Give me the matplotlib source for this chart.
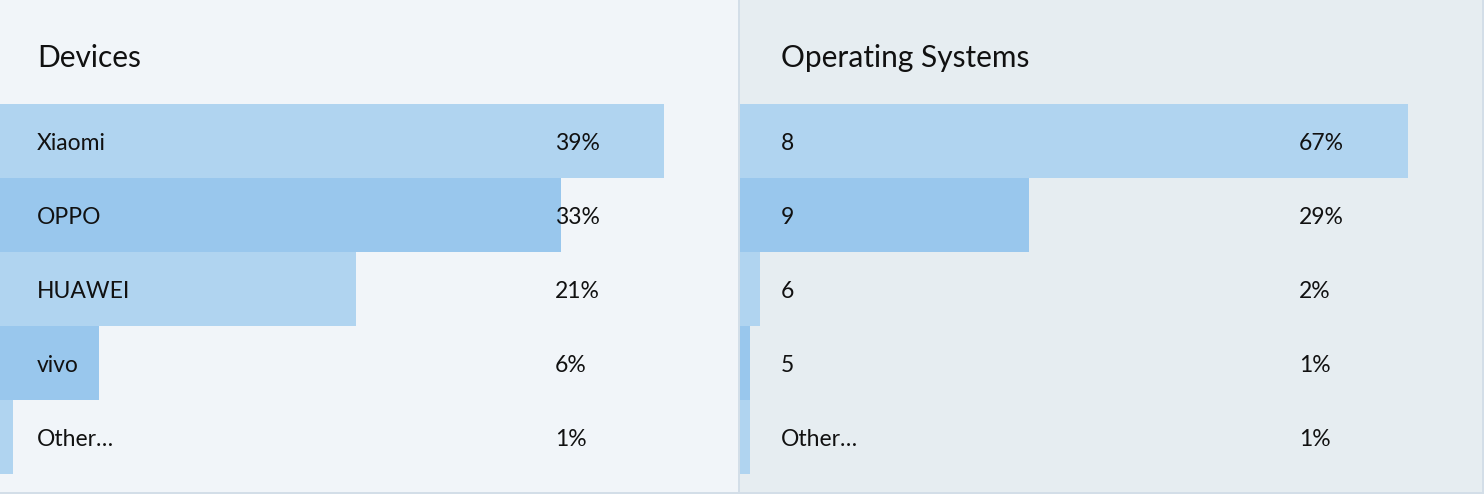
import matplotlib
matplotlib.use("Agg")
import matplotlib.pyplot as plt
from matplotlib.patches import Rectangle

W, H = 1484, 494
plt.rcParams['font.family'] = ['Lato', 'DejaVu Sans']

device_labels = ["Xiaomi", "OPPO", "HUAWEI", "vivo", "Other…"]
device_values = [39.0, 32.95, 20.9, 5.8, 0.76]
os_labels = ["8", "9", "6", "5", "Other…"]
os_values = [67.0, 29.0, 2.0, 1.0, 1.0]
titles = ["Devices", "Operating Systems"]

light = "#b0d4f0"
dark = "#99c7ed"
bg_left = "#f1f5f9"
bg_right = "#e6edf1"
border = "#d3dee8"
text_color = "#111111"

fig = plt.figure(figsize=(W / 100, H / 100), dpi=100)
fig.patch.set_facecolor(bg_left)

def px(x0, y0, w, h):
    return [x0 / W, 1 - (y0 + h) / H, w / W, h / H]

# (panel left, panel width, bg, labels, values, title, label x, pct x)
panels = [
    (0, 738, bg_left, device_labels, device_values, titles[0], 37, 555),
    (740, 742, bg_right, os_labels, os_values, titles[1], 781, 1299),
]

for x0, pw, bg, labels, values, title, lx, pctx in panels:
    bgax = fig.add_axes(px(x0, 0, pw, 492))
    bgax.set_facecolor(bg)
    bgax.set_xticks([]); bgax.set_yticks([])
    for s in bgax.spines.values():
        s.set_visible(False)
    bgax.text((lx - x0) / pw, 1 - 58 / 492, title, transform=bgax.transAxes,
              fontsize=21.5, color=text_color, va='center', ha='left')

    ax = fig.add_axes(px(x0, 104, pw, 370))
    ax.patch.set_alpha(0)
    n = len(values)
    ys = list(range(n))
    colors = [light if i % 2 == 0 else dark for i in range(n)]
    ax.barh(ys, values, height=1.0, color=colors, align='center')
    ax.set_xlim(0, max(values) / 0.9)
    ax.set_ylim(n - 0.5, -0.5)
    ax.set_xticks([]); ax.set_yticks([])
    for s in ax.spines.values():
        s.set_visible(False)
    tr = ax.get_yaxis_transform()
    for i, (lab, v) in enumerate(zip(labels, values)):
        yy = i + 2.5 / 74
        ax.text((lx - x0) / pw, yy, lab, transform=tr,
                fontsize=16.5, color=text_color, va='center', ha='left')
        ax.text((pctx - x0) / pw, yy, f"{round(v)}%", transform=tr,
                fontsize=16.5, color=text_color, va='center', ha='left')

fig.add_artist(Rectangle((738 / W, 0), 2 / W, 1, transform=fig.transFigure, color=border, lw=0))
fig.add_artist(Rectangle((1482 / W, 0), 2 / W, 1, transform=fig.transFigure, color=border, lw=0))
fig.add_artist(Rectangle((0, 0), 1, 2 / H, transform=fig.transFigure, color=border, lw=0))

fig.savefig("out.png", dpi=100, facecolor=fig.get_facecolor())
